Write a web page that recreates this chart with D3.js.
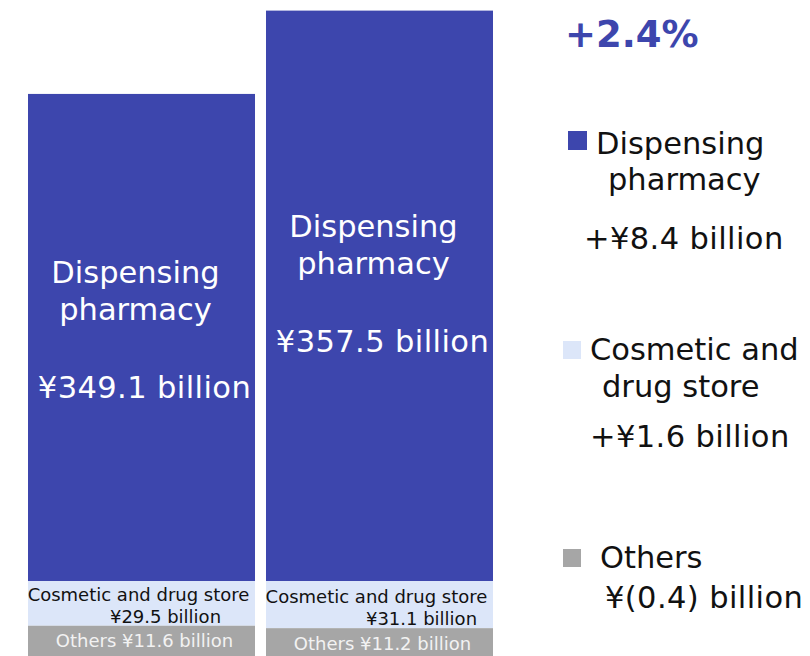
<!DOCTYPE html>
<html>
<head>
<meta charset="utf-8">
<script src="https://cdn.jsdelivr.net/npm/d3@7"></script>
<style>
  html, body { margin: 0; padding: 0; background: #ffffff; }
  svg { display: block; font-family: "DejaVu Sans", Verdana, sans-serif; }
</style>
</head>
<body>
<svg id="chart" width="810" height="656"></svg>
<script>
// Sales by business segment, two periods (¥ billion)
const periods = ["Prior period", "Current period"];
const dispensing = [349.1, 357.5];
const cosmetic = [29.5, 31.1];
const others = [11.6, 11.2];
const growthLabel = "+2.4%";
const segmentNames = [["Dispensing", "pharmacy"], ["Cosmetic and", "drug store"], ["Others"]];

const colors = { dispensing: "#3d46ad", cosmetic: "#dce6f9", others: "#a6a6a6" };

const svg = d3.select("#chart");

// Horizontal placement of the two bars
const x = d3.scaleBand().domain(periods).range([28, 493]).paddingInner(0.0462).paddingOuter(0);

// Broken value axis: the dispensing segment is shown from ¥300 billion upward,
// the smaller segments use an enlarged detail scale.
const yMain = d3.scaleLinear().domain([300, 360]).range([581, 581 - 60 * 9.92]);
const hDetail = d3.scaleLinear().domain([0, 30]).range([0, 45.5]);
const hOthers = d3.scaleLinear().domain([0, 10]).range([0, 30]);

const rows = periods.map((p, i) => {
  const base = yMain(300);
  const top = yMain(dispensing[i]);
  const cosBottom = base + hDetail(cosmetic[i]);
  const othBottom = cosBottom + hOthers(others[i]);
  return { p, i, top, base, cosBottom, othBottom };
});

const fmt = v => "¥" + d3.format(".1f")(v) + " billion";
const fmtChange = v => {
  const r = Math.round(v * 10) / 10;
  return r < 0 ? "¥(" + d3.format(".1f")(-r) + ") billion" : "+¥" + d3.format(".1f")(r) + " billion";
};

const g = svg.append("g");

// Segments
g.selectAll("rect.disp").data(rows).join("rect")
  .attr("x", d => x(d.p)).attr("width", x.bandwidth())
  .attr("y", d => d.top).attr("height", d => d.base - d.top)
  .attr("fill", colors.dispensing);

g.selectAll("rect.cos").data(rows).join("rect")
  .attr("x", d => x(d.p)).attr("width", x.bandwidth())
  .attr("y", d => d.base).attr("height", d => d.cosBottom - d.base)
  .attr("fill", colors.cosmetic);

g.selectAll("rect.oth").data(rows).join("rect")
  .attr("x", d => x(d.p)).attr("width", x.bandwidth())
  .attr("y", d => d.cosBottom).attr("height", d => d.othBottom - d.cosBottom)
  .attr("fill", colors.others);

// Labels inside the dispensing segment
rows.forEach(d => {
  const cx = x(d.p) + x.bandwidth() / 2;
  const anchor = 0.56 * d.top + 0.44 * d.base;
  const t = g.append("g").attr("fill", "#ffffff").attr("font-size", 30.5).attr("text-anchor", "middle");
  t.append("text").attr("x", cx - 6).attr("y", anchor - 25).text(segmentNames[0][0]);
  t.append("text").attr("x", cx - 6).attr("y", anchor + 12).text(segmentNames[0][1]);
  t.append("text").attr("x", cx + 3).attr("y", anchor + 90).attr("letter-spacing", 0.4)
    .text(fmt(dispensing[d.i]));
});

// Labels in the cosmetic and others segments
const valueShift = [24, 42];
rows.forEach(d => {
  const cx = x(d.p) + x.bandwidth() / 2;
  const t = g.append("g").attr("font-size", 18).attr("text-anchor", "middle");
  t.append("text").attr("x", cx - 3).attr("y", d.cosBottom - 25).attr("fill", "#111111")
    .text(segmentNames[1].join(" "));
  t.append("text").attr("x", cx + valueShift[d.i]).attr("y", d.cosBottom - 3).attr("fill", "#111111")
    .text(fmt(cosmetic[d.i]));
  t.append("text").attr("x", cx + 3).attr("y", d.cosBottom + 21.5).attr("fill", "#f2f2f2")
    .text(segmentNames[2][0] + " " + fmt(others[d.i]));
});

// Growth rate headline
svg.append("text").attr("x", 565).attr("y", 47)
  .attr("font-size", 37).attr("font-weight", "bold").attr("fill", colors.dispensing)
  .text(growthLabel);

// Legend with period-over-period changes
const legend = [
  { color: colors.dispensing, sq: [568, 131, 19], lines: [[596, 154], [608, 190]], change: dispensing[1] - dispensing[0], cpos: [584, 249] },
  { color: colors.cosmetic, sq: [563, 341, 18], lines: [[590, 360], [602, 397]], change: cosmetic[1] - cosmetic[0], cpos: [590, 447] },
  { color: colors.others, sq: [563, 549, 18], lines: [[600, 568]], change: others[1] - others[0], cpos: [605, 608] }
];
const lg = svg.append("g").attr("font-size", 30.5).attr("fill", "#111111");
legend.forEach((item, k) => {
  lg.append("rect").attr("x", item.sq[0]).attr("y", item.sq[1])
    .attr("width", item.sq[2]).attr("height", item.sq[2]).attr("fill", item.color);
  segmentNames[k].forEach((line, j) => {
    lg.append("text").attr("x", item.lines[j][0]).attr("y", item.lines[j][1]).text(line);
  });
  lg.append("text").attr("x", item.cpos[0]).attr("y", item.cpos[1]).attr("letter-spacing", 0.4)
    .text(fmtChange(item.change));
});
</script>
</body>
</html>
